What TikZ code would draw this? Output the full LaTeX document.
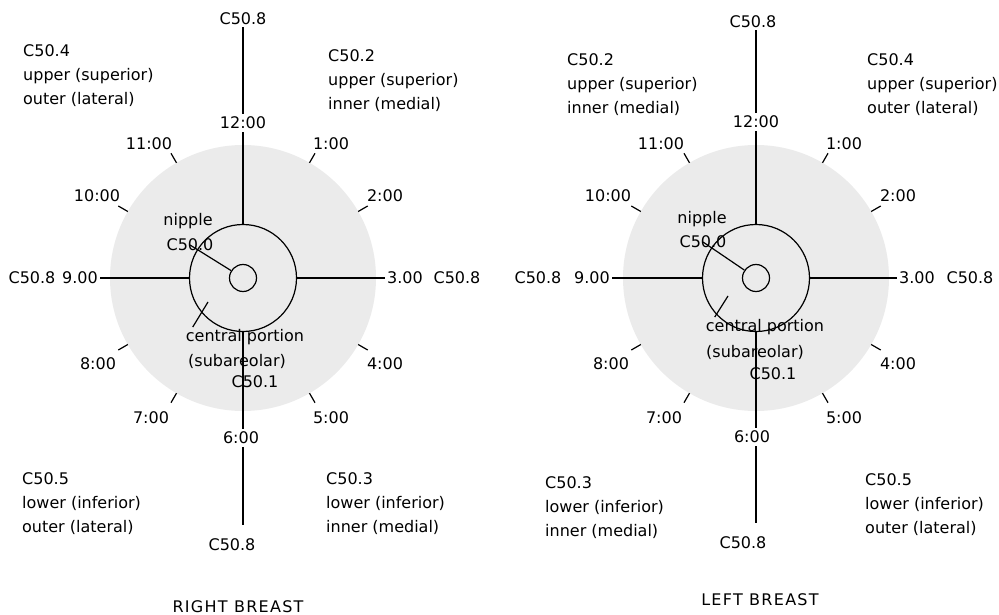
\documentclass[tikz,border=0pt]{standalone}
\usepackage{fontspec}
\setmainfont{DejaVu Sans}
\usetikzlibrary{calc}

\begin{document}
\begin{tikzpicture}[x=1pt,y=-1pt,
    every node/.style={font=\fontsize{16}{24}\selectfont,inner sep=2pt},
    ring node/.style={circle,draw,line width=1.2pt,minimum size=#1,inner sep=0pt},
    axis line/.style={line width=1.6pt},
    tick line/.style={line width=1.2pt},
    clock node/.style={fill=white,inner sep=3pt},
    block node/.style={align=left,anchor=north west,inner sep=0pt},
    title node/.style={font=\fontsize{16}{24}\selectfont\addfontfeatures{LetterSpace=8}}]
    \useasboundingbox (0,0) rectangle (999,615);

    % right breast
    \coordinate (R) at (243,278);
    \fill[black!8] (R) circle[radius=133pt];
    \node[ring node=107pt] (Rareola) at (R) {};
    \node[ring node=27pt] (Rnipple) at (R) {};
    \node (Rtop) at (243,19) {C50.8};
    \node (Rbottom) at (232,545) {C50.8};
    \coordinate (Rend) at (243,525);
    \node (R9) at (80,278) {9.00};
    \node (R9c) at (32,278) {C50.8};
    \node (R3) at (405,278) {3.00};
    \node (R3c) at (457,278) {C50.8};
    \node (Rnip) at (188,221) {nipple};
    \node (Rnipc) at (190,245) {C50.0};
    \node (Rcen) at (245,337) {central portion};
    \node (Rsub) at (237,361) {(subareolar)};
    \node (Rcenc) at (255,382) {C50.1};
    \coordinate (Rcentip) at (208,302);

    \path[axis line]
        (Rareola.north) edge (Rareola.north |- Rtop.south)
        (Rareola) edge (Rend)
        (R9) edge (Rareola)
        (Rareola) edge (R3)
        ;
    \path[tick line]
        (Rnipc.center) edge (Rnipple)
        ([xshift=9pt]Rcen.north west) edge (Rcentip)
        ;
    \foreach \h/\dx/\dy in {1/88/-134,2/142/-82,4/142/86,5/88/140,7/-92/140,8/-145/86,10/-146/-82,11/-94/-134} {
        \draw[tick line] ($(R)+(30*\h-90:133)$) -- ($(R)+(30*\h-90:144)$);
        \node (R\h) at ($(R)+(\dx,\dy)$) {\h:00};
    }
    \node[clock node] (R12) at (243,123) {12:00};
    \node[clock node] (R6) at (241,438) {6:00};

    \node[block node] (Rul) at (23,44) {C50.4\\upper (superior)\\outer (lateral)};
    \node[block node] (Rur) at (328,49) {C50.2\\upper (superior)\\inner (medial)};
    \node[block node] (Rll) at (22,472) {C50.5\\lower (inferior)\\outer (lateral)};
    \node[block node] (Rlr) at (326,472) {C50.3\\lower (inferior)\\inner (medial)};
    \node[title node] (Rtitle) at (238,607) {RIGHT BREAST};

    % left breast
    \coordinate (L) at (756,278);
    \fill[black!8] (L) circle[radius=133pt];
    \node[ring node=107pt] (Lareola) at (L) {};
    \node[ring node=27pt] (Lnipple) at (L) {};
    \node (Ltop) at (753,22) {C50.8};
    \node (Lbottom) at (743,543) {C50.8};
    \coordinate (Lend) at (756,523);
    \node (L9) at (592,278) {9.00};
    \node (L9c) at (538,278) {C50.8};
    \node (L3) at (917,278) {3.00};
    \node (L3c) at (970,278) {C50.8};
    \node (Lnip) at (702,219) {nipple};
    \node (Lnipc) at (703,242) {C50.0};
    \node (Lcen) at (765,327) {central portion};
    \node (Lsub) at (755,352) {(subareolar)};
    \node (Lcenc) at (773,374) {C50.1};
    \coordinate (Lcentip) at (728,296);

    \path[axis line]
        (Lareola.north) edge (Lareola.north |- Ltop.south)
        (Lareola) edge (Lend)
        (L9) edge (Lareola)
        (Lareola) edge (L3)
        ;
    \path[tick line]
        (Lnipc.center) edge (Lnipple)
        ([xshift=11pt]Lcen.north west) edge (Lcentip)
        ;
    \foreach \h/\dx/\dy in {1/88/-134,2/142/-82,4/142/86,5/88/140,7/-92/140,8/-145/86,10/-148/-82,11/-95/-134} {
        \draw[tick line] ($(L)+(30*\h-90:133)$) -- ($(L)+(30*\h-90:144)$);
        \node (L\h) at ($(L)+(\dx,\dy)$) {\h:00};
    }
    \node[clock node] (L12) at (756,122) {12:00};
    \node[clock node] (L6) at (752,437) {6:00};

    \node[block node] (Lul) at (567,53) {C50.2\\upper (superior)\\inner (medial)};
    \node[block node] (Lur) at (867,53) {C50.4\\upper (superior)\\outer (lateral)};
    \node[block node] (Lll) at (545,476) {C50.3\\lower (inferior)\\inner (medial)};
    \node[block node] (Llr) at (865,473) {C50.5\\lower (inferior)\\outer (lateral)};
    \node[title node] (Ltitle) at (760,600) {LEFT BREAST};
\end{tikzpicture}
\end{document}
